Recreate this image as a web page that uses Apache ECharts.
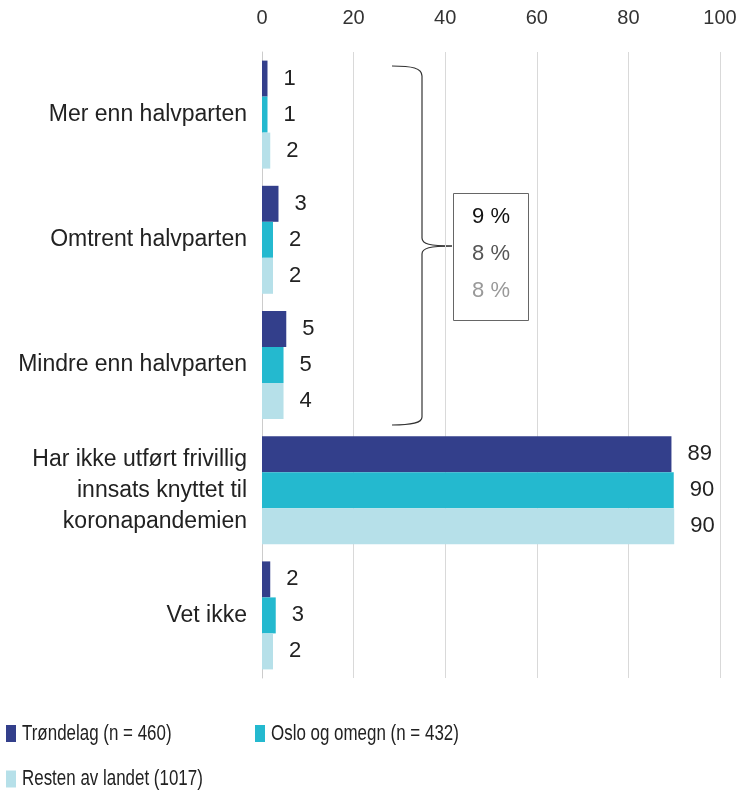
<!DOCTYPE html>
<html>
<head>
<meta charset="utf-8">
<script src="https://cdn.jsdelivr.net/npm/echarts@6/dist/echarts.min.js"></script>
<style>html,body{margin:0;padding:0;background:#fff;}#c{width:741px;height:792px;}</style>
</head>
<body>
<div id="c"></div>
<script>
var categories = ['Mer enn halvparten', 'Omtrent halvparten', 'Mindre enn halvparten', 'Har ikke utført frivillig\ninnsats knyttet til\nkoronapandemien', 'Vet ikke'];
var seriesNames = ['Trøndelag (n = 460)', 'Oslo og omegn (n = 432)', 'Resten av landet (1017)'];
var trondelag = [1.2, 3.6, 5.3, 89.4, 1.8];
var oslo = [1.2, 2.4, 4.7, 89.9, 3.0];
var resten = [1.8, 2.4, 4.7, 90.0, 2.4];
var trondelagLabels = [1, 3, 5, 89, 2];
var osloLabels = [1, 2, 5, 90, 3];
var restenLabels = [2, 2, 4, 90, 2];
var xTicks = [0, 20, 40, 60, 80, 100];
var bracketTotals = ['9 %', '8 %', '8 %'];
var colors = ['#333f8b', '#24b9cf', '#b6e0e9'];

var chart = echarts.init(document.getElementById('c'), null, {renderer: 'canvas'});
var font = 'Liberation Sans, Arial, sans-serif';

function mk(name, vals, labs, color) {
  return {
    name: name, type: 'bar', data: vals, barWidth: 36, barGap: '0%',
    itemStyle: {color: color},
    label: {show: true, position: 'right', distance: 16, fontSize: 22, color: '#222', fontFamily: font,
      formatter: function (p) { return labs[p.dataIndex]; }}
  };
}

var braceStyle = {fill: 'none', stroke: '#333', lineWidth: 1.2};
function bz(x1, y1, cx1, cy1, cx2, cy2, x2, y2) {
  return {type: 'bezierCurve', shape: {x1: x1, y1: y1, cpx1: cx1, cpy1: cy1, cpx2: cx2, cpy2: cy2, x2: x2, y2: y2}, style: braceStyle, silent: true};
}
function ln(x1, y1, x2, y2) {
  return {type: 'line', shape: {x1: x1, y1: y1, x2: x2, y2: y2}, style: braceStyle, silent: true};
}

// legend drawn as condensed text (as in the reference)
var legendPos = [[6, 733.5], [255, 733.5], [6, 779]];
var legendGraphics = [];
seriesNames.forEach(function (name, i) {
  var p = legendPos[i];
  legendGraphics.push({type: 'rect', shape: {x: p[0], y: p[1] - 8.5, width: 10, height: 17}, style: {fill: colors[i]}, silent: true});
  legendGraphics.push({type: 'text', x: p[0] + 16, y: p[1], scaleX: 0.77,
    style: {text: name, fill: '#222', fontSize: 22, fontFamily: font, textAlign: 'left', textVerticalAlign: 'middle'}});
});

chart.setOption({
  animation: false,
  textStyle: {fontFamily: font},
  grid: {left: 262, right: 21, top: 52, bottom: 114},
  xAxis: {
    type: 'value', position: 'top', min: xTicks[0], max: xTicks[xTicks.length - 1], interval: 20,
    axisLine: {show: false}, axisTick: {show: false},
    axisLabel: {fontSize: 20, color: '#333', margin: 24, fontFamily: font},
    splitLine: {show: true, lineStyle: {color: '#d9d9d9', width: 1}}
  },
  yAxis: {
    type: 'category', data: categories, inverse: true,
    axisLine: {show: true, lineStyle: {color: '#cccccc'}}, axisTick: {show: false},
    axisLabel: {fontSize: 23, color: '#222', margin: 15, lineHeight: 31, fontFamily: font}
  },
  series: [
    mk(seriesNames[0], trondelag, trondelagLabels, colors[0]),
    mk(seriesNames[1], oslo, osloLabels, colors[1]),
    mk(seriesNames[2], resten, restenLabels, colors[2])
  ],
  graphic: [
    bz(392, 66, 412, 66, 422, 68, 422, 76),
    ln(422, 76, 422, 238),
    bz(422, 238, 422, 244, 430, 246, 452, 246),
    bz(452, 246, 430, 246, 422, 248, 422, 254),
    ln(422, 254, 422, 417),
    bz(422, 417, 422, 423, 412, 425, 392, 425),
    {type: 'rect', shape: {x: 453.5, y: 193.5, width: 75, height: 127}, style: {fill: '#fff', stroke: '#666', lineWidth: 1}},
    {type: 'text', x: 491, y: 217, style: {text: bracketTotals[0], fill: '#111', fontSize: 22, fontFamily: font, textAlign: 'center', textVerticalAlign: 'middle'}},
    {type: 'text', x: 491, y: 254, style: {text: bracketTotals[1], fill: '#555', fontSize: 22, fontFamily: font, textAlign: 'center', textVerticalAlign: 'middle'}},
    {type: 'text', x: 491, y: 291, style: {text: bracketTotals[2], fill: '#999', fontSize: 22, fontFamily: font, textAlign: 'center', textVerticalAlign: 'middle'}}
  ].concat(legendGraphics)
});
</script>
</body>
</html>
